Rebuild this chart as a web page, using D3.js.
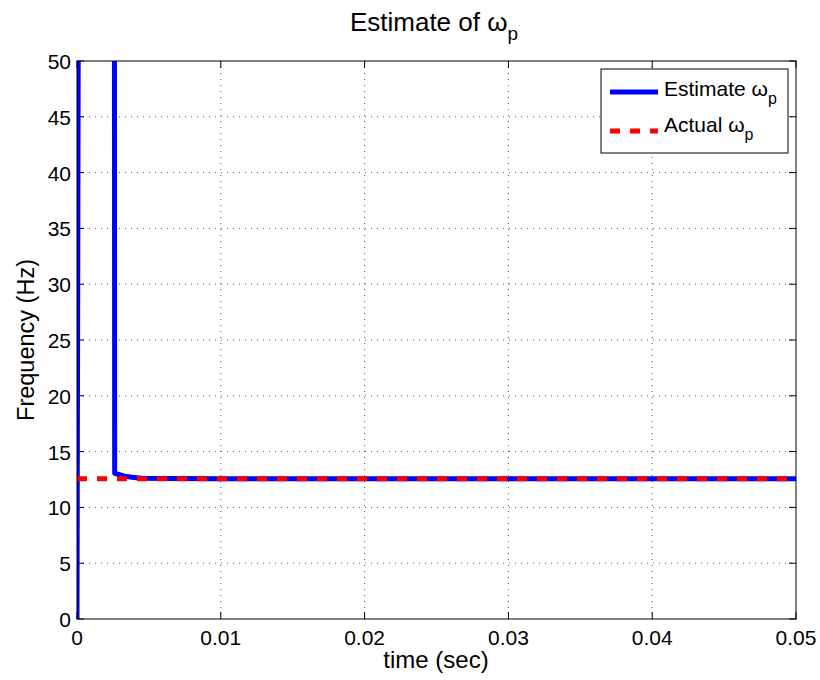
<!DOCTYPE html>
<html><head><meta charset="utf-8">
<script src="https://cdn.jsdelivr.net/npm/d3@7"></script>
<style>body{margin:0;background:#fff}svg{display:block}text{font-family:"Liberation Sans",Arial,sans-serif;fill:#000}</style>
</head><body><svg id="c" width="820" height="680"></svg>
<script>
const xTicks = [0, 0.01, 0.02, 0.03, 0.04, 0.05];
const yTicks = [0, 5, 10, 15, 20, 25, 30, 35, 40, 45, 50];
const estTime = [0, 0.0001, 0.0026, 0.00262, 0.0029, 0.0033, 0.0038, 0.0045, 0.006, 0.01, 0.05];
const estVal  = [0, 60, 60, 13.05, 12.95, 12.8, 12.7, 12.62, 12.58, 12.57, 12.57];
const actualTime = [0, 0.05];
const actualVal = [12.566, 12.566];

const svg = d3.select("#c");
const L = 77, R = 796, T = 61, B = 619;
const x = d3.scaleLinear().domain([0, 0.05]).range([L, R]);
const y = d3.scaleLinear().domain([0, 50]).range([B, T]);

// grid
const g = svg.append("g");
g.selectAll(".gx").data(xTicks.slice(1, -1)).enter().append("line")
  .attr("x1", d => x(d)).attr("x2", d => x(d)).attr("y1", T).attr("y2", B)
  .attr("stroke", "#555").attr("stroke-width", 1).attr("stroke-dasharray", "1,5");
g.selectAll(".gy").data(yTicks.slice(1, -1)).enter().append("line")
  .attr("y1", d => y(d)).attr("y2", d => y(d)).attr("x1", L).attr("x2", R)
  .attr("stroke", "#555").attr("stroke-width", 1).attr("stroke-dasharray", "1,5");

// ticks inside on all sides
const tl = 7;
xTicks.forEach(d => {
  svg.append("line").attr("x1", x(d)).attr("x2", x(d)).attr("y1", B).attr("y2", B - tl).attr("stroke", "#000");
  svg.append("line").attr("x1", x(d)).attr("x2", x(d)).attr("y1", T).attr("y2", T + tl).attr("stroke", "#000");
});
yTicks.forEach(d => {
  svg.append("line").attr("x1", L).attr("x2", L + tl).attr("y1", y(d)).attr("y2", y(d)).attr("stroke", "#000");
  svg.append("line").attr("x1", R).attr("x2", R - tl).attr("y1", y(d)).attr("y2", y(d)).attr("stroke", "#000");
});

// tick labels
svg.selectAll(".xl").data(xTicks).enter().append("text")
  .attr("x", d => x(d)).attr("y", 645).attr("text-anchor", "middle").attr("font-size", 21)
  .text(d => d === 0 ? "0" : d3.format(".2f")(d));
svg.selectAll(".yl").data(yTicks).enter().append("text")
  .attr("x", 71).attr("y", d => y(d) + 8).attr("text-anchor", "end").attr("font-size", 21)
  .text(d => d);

// clip
svg.append("clipPath").attr("id", "clip").append("rect")
  .attr("x", L).attr("y", T).attr("width", R - L).attr("height", B - T);

const line = d3.line().x(d => x(d[0])).y(d => y(d[1]));
const est = estTime.map((t, i) => [t, estVal[i]]);
const act = actualTime.map((t, i) => [t, actualVal[i]]);

svg.append("path").datum(est).attr("d", line).attr("clip-path", "url(#clip)")
  .attr("fill", "none").attr("stroke", "#0000ff").attr("stroke-width", 5).attr("stroke-linejoin", "round");
svg.append("path").datum(act).attr("d", line).attr("clip-path", "url(#clip)")
  .attr("fill", "none").attr("stroke", "#ff0000").attr("stroke-width", 5).attr("stroke-dasharray", "10,10");

// axes box
svg.append("rect").attr("x", L).attr("y", T).attr("width", R - L).attr("height", B - T)
  .attr("fill", "none").attr("stroke", "#000").attr("stroke-width", 1);

// legend
const lg = svg.append("g");
lg.append("rect").attr("x", 601).attr("y", 69).attr("width", 187).attr("height", 84)
  .attr("fill", "#fff").attr("stroke", "#000").attr("stroke-width", 1);
lg.append("line").attr("x1", 610).attr("x2", 658).attr("y1", 92).attr("y2", 92)
  .attr("stroke", "#0000ff").attr("stroke-width", 5);
lg.append("line").attr("x1", 610).attr("x2", 658).attr("y1", 131).attr("y2", 131)
  .attr("stroke", "#ff0000").attr("stroke-width", 5).attr("stroke-dasharray", "10,10");
function sub(t, main, s, fs, sfs, dy, xx, yy, anchor) {
  const tx = t.append("text").attr("x", xx).attr("y", yy).attr("font-size", fs).attr("text-anchor", anchor || "start");
  tx.append("tspan").text(main);
  tx.append("tspan").attr("dy", dy).attr("font-size", sfs).text(s);
  return tx;
}
sub(lg, "Estimate ω", "p", 21, 16, 8, 664, 96);
sub(lg, "Actual ω", "p", 21, 16, 8, 664, 132);

// title & labels
sub(svg, "Estimate of ω", "p", 26, 19, 9, 434, 31, "middle");
svg.append("text").attr("x", 436).attr("y", 668).attr("text-anchor", "middle").attr("font-size", 24).text("time (sec)");
svg.append("text").attr("transform", "translate(34," + ((T + B) / 2) + ") rotate(-90)")
  .attr("text-anchor", "middle").attr("font-size", 23.5).text("Frequency (Hz)");
</script></body></html>
